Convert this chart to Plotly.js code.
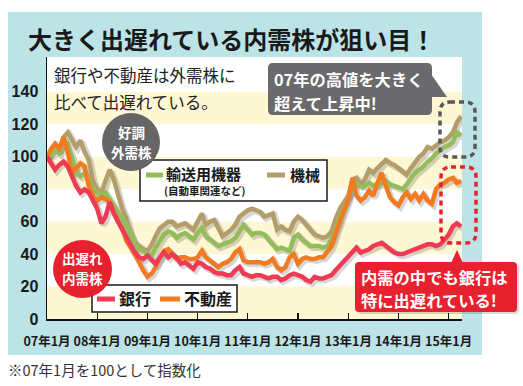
<!DOCTYPE html>
<html><head><meta charset="utf-8">
<script src="https://cdn.plot.ly/plotly-3.0.1.min.js"></script>
<style>html,body{margin:0;padding:0;background:#fff;}#chart{width:523px;height:386px;}</style>
</head><body><div id="chart"></div>
<script>
// ---- data (index: 2007年1月 = 100) ----
const startYear = 2007;
const nMonths = 100; // 2007-01 .. 2015-04
const machinery = [100,103,106,105,112,115,110,106,110,103,98,85,80,78,85,92,86,76,68,62,52,47,45,43,
  42,46,51,56,58,60,60,57,58,59,57,55,60,65,58,60,61,56,51,53,55,58,63,65,
  67,68,67,66,63,64,65,55,57,55,54,60,63,61,58,55,52,51,50,51,54,62,68,72,
  76,86,87,83,86,92,90,93,96,98,96,95,93,91,89,93,97,100,102,106,105,107,109,110,
  112,115,121,125];
const transport = [100,101,104,102,106,108,100,90,88,90,85,80,78,76,78,74,70,65,62,58,52,46,43,42,
  40,39,44,48,52,54,53,50,52,53,51,49,53,56,51,49,47,45,46,47,48,50,54,58,
  55,52,53,53,52,49,46,43,44,43,42,50,52,49,47,45,45,45,44,45,49,56,62,68,
  75,84,83,82,82,84,82,83,84,85,83,82,81,80,83,87,90,92,94,97,99,102,104,106,
  107,109,115,113];
const realEstate = [100,105,108,105,112,103,90,93,96,94,82,76,73,75,74,72,66,60,56,48,44,40,35,30,
  26,28,32,38,42,43,40,37,38,38,37,37,38,42,38,36,34,32,34,35,37,41,43,36,
  35,35,35,35,34,35,37,32,30,32,38,40,34,37,38,37,37,38,38,41,45,53,60,66,
  74,87,76,73,75,79,76,84,90,82,75,72,70,75,78,74,77,73,77,73,71,80,83,84,
  86,87,84,85];
const banks = [100,96,92,95,97,94,88,82,78,80,78,73,68,59,63,72,65,60,55,50,45,41,38,37,
  39,36,34,38,41,38,40,38,34,35,33,31,35,34,32,31,29,28,28,27,27,30,32,28,
  27,26,27,27,26,25,26,26,24,25,27,28,27,26,24,23,26,25,25,26,27,30,33,36,
  38,42,44,41,42,43,45,46,47,45,43,41,40,40,41,42,43,44,45,46,46,45,46,49,
  52,57,59,57];
const seriesNames = ['機械','輸送用機器','不動産','銀行'];
const tickVals = ['2007-01-01','2008-01-01','2009-01-01','2010-01-01','2011-01-01','2012-01-01','2013-01-01','2014-01-01','2015-01-01'];
const tickText = ['07年1月','08年1月','09年1月','10年1月','11年1月','12年1月','13年1月','14年1月','15年1月'];
const yTickVals = [0,20,40,60,80,100,120,140];
const bands = [[0,20],[40,60],[80,100],[120,140]];

// months as categories on a date axis
const months = [];
for (let i = 0; i < nMonths; i++) {
  const y = startYear + Math.floor(i / 12), m = i % 12 + 1;
  months.push(y + '-' + String(m).padStart(2, '0') + '-01');
}

// ---- layout helpers (pixel -> paper) ----
const W = 523, H = 386, L = 47, R = 462, T = 57, B = 319;
const px = x => (x - L) / (R - L);
const py = y => (B - y) / (B - T);
const XR = ['2007-01-01', '2015-04-08'];
const YR = [0, 161.5];
const t0 = Date.parse(XR[0]), t1 = Date.parse(XR[1]);
const msPerPx = (t1 - t0) / (R - L);
const unitPerPx = (YR[1] - YR[0]) / (B - T);
const sh = 2; // shadow offset px
const iso = t => new Date(t).toISOString().slice(0, 19).replace('T', ' ');
const XRs = [iso(t0 - sh * msPerPx), iso(t1 - sh * msPerPx)];
const YRs = [YR[0] + sh * unitPerPx, YR[1] + sh * unitPerPx];

function rr(x0, y0, x1, y1, r) {
  const X = px, Y = py;
  return 'M' + X(x0 + r) + ',' + Y(y0) + ' L' + X(x1 - r) + ',' + Y(y0) +
    ' Q' + X(x1) + ',' + Y(y0) + ' ' + X(x1) + ',' + Y(y0 + r) +
    ' L' + X(x1) + ',' + Y(y1 - r) +
    ' Q' + X(x1) + ',' + Y(y1) + ' ' + X(x1 - r) + ',' + Y(y1) +
    ' L' + X(x0 + r) + ',' + Y(y1) +
    ' Q' + X(x0) + ',' + Y(y1) + ' ' + X(x0) + ',' + Y(y1 - r) +
    ' L' + X(x0) + ',' + Y(y0 + r) +
    ' Q' + X(x0) + ',' + Y(y0) + ' ' + X(x0 + r) + ',' + Y(y0) + ' Z';
}
function tri(pts) {
  return 'M' + pts.map(p => px(p[0]) + ',' + py(p[1])).join(' L') + ' Z';
}
function rectP(x0, y0, x1, y1, fill, line, lw, layer) {
  return {type: 'rect', xref: 'paper', yref: 'paper', x0: px(x0), x1: px(x1), y0: py(y1), y1: py(y0),
    fillcolor: fill, line: {color: line || fill, width: lw || 0}, layer: layer || 'above'};
}
function lineP(x0, y0, x1, y1, color, w) {
  return {type: 'line', xref: 'paper', yref: 'paper', x0: px(x0), x1: px(x1), y0: py(y0), y1: py(y1),
    line: {color: color, width: w}, layer: 'above'};
}
function circ(x0, y0, x1, y1, fill) {
  return {type: 'circle', xref: 'paper', yref: 'paper', x0: px(x0), x1: px(x1), y0: py(y1), y1: py(y0),
    fillcolor: fill, line: {width: 0}, layer: 'above'};
}

const colors = {'機械': '#b39d6b', '輸送用機器': '#93bd5b', '不動産': '#f27a21', '銀行': '#ee3a52'};
const data = [machinery, transport, realEstate, banks];

const traces = [];
seriesNames.forEach((n, i) => {
  traces.push({x: months, y: data[i], type: 'scatter', mode: 'lines', xaxis: 'x', yaxis: 'y',
    line: {color: 'rgba(70,70,70,0.22)', width: 6}, hoverinfo: 'skip', showlegend: false});
});
seriesNames.forEach((n, i) => {
  traces.push({x: months, y: data[i], name: n, type: 'scatter', mode: 'lines', xaxis: 'x2', yaxis: 'y2',
    line: {color: colors[n], width: 4.5}, showlegend: false});
});

const JP = 'Noto Sans CJK JP';
const shapes = [];
shapes.push(rectP(8, 12, 482, 355, '#bce3e6', null, 0, 'below'));
shapes.push({type: 'rect', xref: 'paper', yref: 'paper', x0: 0, x1: 1, y0: 0, y1: 1, fillcolor: '#ffffff', line: {width: 0}, layer: 'below'});
bands.forEach(b => shapes.push({type: 'rect', xref: 'paper', yref: 'y2', x0: 0, x1: 1, y0: b[0], y1: b[1],
  fillcolor: '#fdf7d3', line: {width: 0}, layer: 'below'}));

// legend boxes
shapes.push(rectP(140, 160, 327, 201, '#ffffff', '#1a1a1a', 1.5));
shapes.push(lineP(146, 175, 163, 175, colors['輸送用機器'], 5));
shapes.push(lineP(267, 175, 285, 175, colors['機械'], 5));
shapes.push(rectP(92, 285, 237, 312, '#ffffff', '#1a1a1a', 1.5));
shapes.push(lineP(97, 299, 115, 299, colors['銀行'], 5));
shapes.push(lineP(160, 299, 180, 299, colors['不動産'], 5));
// circles
shapes.push(circ(102, 113, 160, 171, '#666668'));
shapes.push(circ(53, 240, 112, 298, '#e8212e'));
// gray callout
shapes.push({type: 'path', xref: 'paper', yref: 'paper', path: rr(268, 63, 432, 115, 5), fillcolor: '#6a6a6c', line: {width: 0}, layer: 'above'});
shapes.push({type: 'path', xref: 'paper', yref: 'paper', path: tri([[431, 74], [447, 97], [431, 97]]), fillcolor: '#6a6a6c', line: {width: 0}, layer: 'above'});
// dashed highlight boxes
shapes.push({type: 'path', xref: 'paper', yref: 'paper', path: rr(440, 102, 475, 157, 10), fillcolor: 'rgba(0,0,0,0)', line: {color: '#58585a', width: 3.5, dash: '5px,4px'}, layer: 'above'});
shapes.push({type: 'path', xref: 'paper', yref: 'paper', path: rr(441, 167, 476, 243, 10), fillcolor: 'rgba(0,0,0,0)', line: {color: '#e8212e', width: 3.5, dash: '5px,4px'}, layer: 'above'});
// red callout
shapes.push({type: 'path', xref: 'paper', yref: 'paper', path: rr(357, 264, 519, 314, 4), fillcolor: 'rgba(0,0,0,0.15)', line: {width: 0}, layer: 'above'});
shapes.push({type: 'path', xref: 'paper', yref: 'paper', path: rr(355, 262, 517, 312, 4), fillcolor: '#e8212e', line: {width: 0}, layer: 'above'});
shapes.push({type: 'path', xref: 'paper', yref: 'paper', path: tri([[451, 263], [463, 263], [457, 250]]), fillcolor: '#e8212e', line: {width: 0}, layer: 'above'});

function ann(text, x, y, size, color, opts) {
  opts = opts || {};
  return {text: text, xref: 'paper', yref: 'paper', x: px(x), y: py(y), xanchor: opts.xa || 'left', yanchor: 'middle',
    align: opts.xa === 'center' ? 'center' : 'left', borderpad: 0,
    showarrow: false, font: {family: JP, size: size, color: color, weight: opts.w || 'normal'}};
}
const annotations = [
  ann('大きく出遅れている内需株が狙い目！', 27, 38, 24, '#1a1a1a', {w: 'bold'}),
  ann('銀行や不動産は外需株に', 53, 75, 16.5, '#222222'),
  ann('比べて出遅れている。', 53, 102, 16.5, '#222222'),
  ann('輸送用機器', 165, 173.5, 15, '#1a1a1a', {w: 'bold'}),
  ann('(自動車関連など)', 163, 190.5, 10.5, '#1a1a1a', {w: 'bold'}),
  ann('機械', 289, 174, 15, '#1a1a1a', {w: 'bold'}),
  ann('銀行', 118, 298, 16, '#1a1a1a', {w: 'bold'}),
  ann('不動産', 183, 298, 16, '#1a1a1a', {w: 'bold'}),
  ann('好調', 131, 132, 13.5, '#ffffff', {w: 'bold', xa: 'center'}),
  ann('外需株', 131, 152, 13.5, '#ffffff', {w: 'bold', xa: 'center'}),
  ann('出遅れ', 82, 258, 13.5, '#ffffff', {w: 'bold', xa: 'center'}),
  ann('内需株', 82, 278, 13.5, '#ffffff', {w: 'bold', xa: 'center'}),
  ann('07年の高値を大きく', 273, 79, 16.3, '#ffffff', {w: 'bold'}),
  ann('超えて上昇中!', 273, 102.5, 16.3, '#ffffff', {w: 'bold'}),
  ann('内需の中でも銀行は', 360, 276.5, 16.3, '#ffffff', {w: 'bold'}),
  ann('特に出遅れている!', 360, 300, 16.3, '#ffffff', {w: 'bold'}),
  ann('※07年1月を100として指数化', 7, 369, 14.5, '#333333')
];

const layout = {
  width: W, height: H,
  margin: {l: L, r: W - R, t: T, b: H - B, pad: 0},
  paper_bgcolor: '#ffffff', plot_bgcolor: 'rgba(0,0,0,0)',
  showlegend: false,
  xaxis: {type: 'date', range: XRs, visible: false, fixedrange: true},
  yaxis: {range: YRs, visible: false, fixedrange: true},
  xaxis2: {type: 'date', overlaying: 'x', anchor: 'y2', range: XR, showgrid: false, zeroline: false,
    showline: true, linecolor: '#111', linewidth: 1.5, ticks: 'inside', ticklen: 6, tickwidth: 1.3, tickcolor: '#111',
    tickmode: 'array', tickvals: tickVals, ticktext: tickText, ticklabelstandoff: 10,
    tickfont: {family: JP, size: 12.5, color: '#1a1a1a', weight: 'bold'}},
  yaxis2: {overlaying: 'y', anchor: 'x2', side: 'left', range: YR, showgrid: false, zeroline: false,
    showline: true, linecolor: '#111', linewidth: 1.5, ticks: '', tickmode: 'array', tickvals: yTickVals,
    ticklabelstandoff: 4, tickfont: {family: 'Liberation Sans', size: 16, color: '#1a1a1a', weight: 'bold'}},
  shapes: shapes,
  annotations: annotations
};
Plotly.newPlot('chart', traces, layout, {staticPlot: true, displayModeBar: false});
</script></body></html>
